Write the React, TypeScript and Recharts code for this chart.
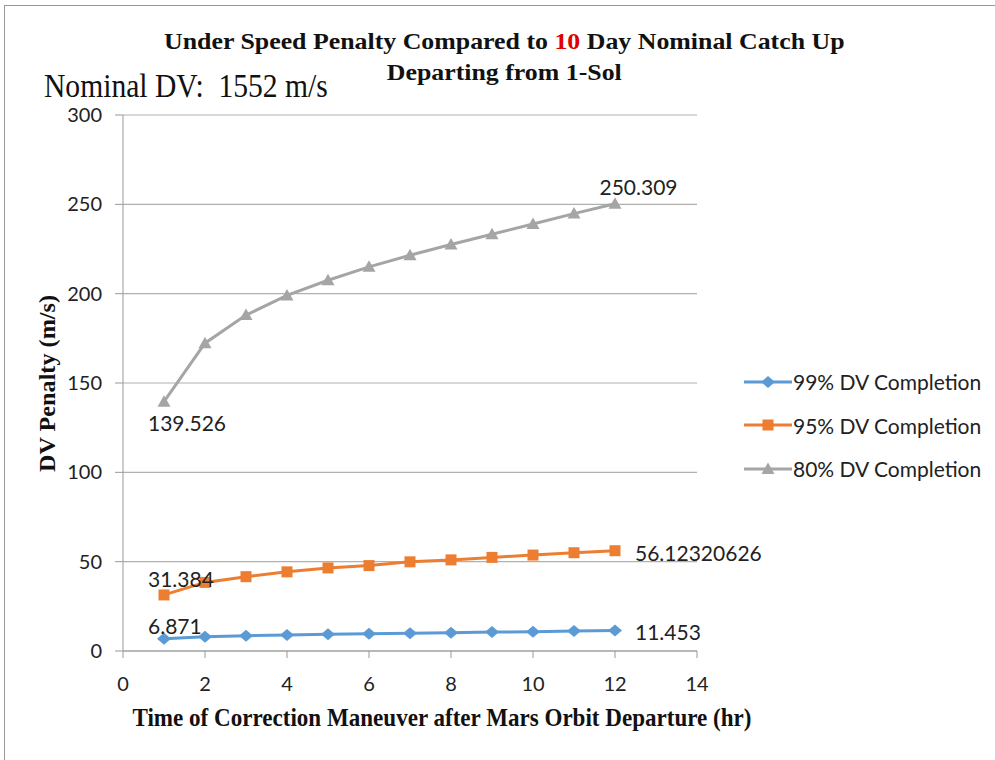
import React from "react"
import { LineChart, Line, XAxis, YAxis, CartesianGrid, LabelList } from "recharts"

const hours = [1, 2, 3, 4, 5, 6, 7, 8, 9, 10, 11, 12]
const dv99 = [6.871, 8.0, 8.6, 8.9, 9.4, 9.6, 10.0, 10.2, 10.6, 10.8, 11.2, 11.453]
const dv95 = [31.384, 38.4, 41.6, 44.3, 46.5, 47.8, 49.9, 51.0, 52.4, 53.7, 55.0, 56.12320626]
const dv80 = [139.526, 172.3, 188.0, 199.0, 207.5, 215.0, 221.5, 227.5, 233.3, 239.0, 244.8, 250.309]
const xTicks = [0, 2, 4, 6, 8, 10, 12, 14]
const yTicks = [0, 50, 100, 150, 200, 250, 300]

const data = hours.map((h, i) => ({ h, a: dv99[i], b: dv95[i], c: dv80[i] }))

const BLUE = "#5B9BD5"
const ORANGE = "#ED7D31"
const GRAY = "#A5A5A5"
const SERIF = "'Liberation Serif', 'Times New Roman', serif"
const SANS = "Lato, 'Noto Sans', sans-serif"

function Marker({ cx, cy, shape, color }: any) {
  if (cx == null || cy == null) return null
  if (shape === "diamond") {
    return <path d={`M${cx},${cy - 6}L${cx + 7},${cy}L${cx},${cy + 6}L${cx - 7},${cy}Z`} fill={color} />
  }
  if (shape === "square") {
    return <rect x={cx - 5.5} y={cy - 5.5} width={11} height={11} fill={color} />
  }
  return <path d={`M${cx},${cy - 6.5}L${cx + 6.5},${cy + 5}L${cx - 6.5},${cy + 5}Z`} fill={color} />
}

// only first and last point are labelled, like the original
function endLabel(pos: { first: [number, number, string]; last: [number, number, string] }) {
  return (props: any) => {
    const { x, y, value, index } = props
    if (index !== 0 && index !== hours.length - 1) return null
    const [dx, dy, anchor] = index === 0 ? pos.first : pos.last
    return (
      <text x={x + dx} y={y + dy} textAnchor={anchor} fontFamily={SANS} fontSize={21} fill="#222">
        {value}
      </text>
    )
  }
}

const legendItems = [
  { name: "99% DV Completion", color: BLUE, shape: "diamond" },
  { name: "95% DV Completion", color: ORANGE, shape: "square" },
  { name: "80% DV Completion", color: GRAY, shape: "triangle" },
]

const axisTitle = { fontFamily: SERIF, fontWeight: "bold", fill: "#111" } as const

export default function App() {
  return (
    <div style={{ position: "absolute", left: 0, top: 0, width: 995, height: 760, background: "#fff", fontFamily: SERIF, overflow: "hidden" }}>
      <div style={{ position: "absolute", left: 4, top: 5, width: 992, height: 755, borderTop: "1px solid #999", borderLeft: "1px solid #999" }} />
      <div style={{ position: "absolute", left: 0, width: 995, top: 26, textAlign: "center", fontWeight: "bold", fontSize: 23.5, lineHeight: "31px", color: "#111", paddingLeft: 15, boxSizing: "border-box", transform: "scaleX(1.1)", transformOrigin: "512px 0" }}>
        Under Speed Penalty Compared to <span style={{ color: "#e00000" }}>10</span> Day Nominal Catch Up
        <br />
        Departing from 1-Sol
      </div>
      <div style={{ position: "absolute", left: 44, top: 71, fontSize: 34, lineHeight: "30px", color: "#111", whiteSpace: "nowrap", transform: "scaleX(0.87)", transformOrigin: "0 0" }}>
        Nominal DV:&nbsp; 1552 m/s
      </div>
      <LineChart width={995} height={760} data={data} margin={{ top: 115, right: 298, bottom: 59, left: 63 }}>
        <CartesianGrid horizontal vertical={false} stroke="#b0b0b0" strokeWidth={1.2} />
        <XAxis
          dataKey="h"
          type="number"
          domain={[0, 14]}
          ticks={xTicks}
          height={50}
          tickSize={7}
          tickMargin={19}
          stroke="#999"
          tick={{ fill: "#222", fontSize: 20, fontFamily: SANS }}
          label={(p: any) => (
            <text x={442} y={726} textAnchor="middle" fontSize={25} textLength={619} lengthAdjust="spacingAndGlyphs" {...axisTitle}>
              Time of Correction Maneuver after Mars Orbit Departure (hr)
            </text>
          )}
        />
        <YAxis
          type="number"
          domain={[0, 300]}
          ticks={yTicks}
          width={60}
          tickSize={8}
          tickMargin={13}
          stroke="#999"
          tick={{ fill: "#222", fontSize: 20, fontFamily: SANS }}
          label={(p: any) => (
            <text x={55} y={383.5} transform="rotate(-90 55 383.5)" textAnchor="middle" fontSize={24} textLength={177} lengthAdjust="spacingAndGlyphs" {...axisTitle}>
              DV Penalty (m/s)
            </text>
          )}
        />
        <Line dataKey="a" stroke={BLUE} strokeWidth={3} isAnimationActive={false} dot={(p: any) => <Marker key={p.index} {...p} shape="diamond" color={BLUE} />}>
          <LabelList dataKey="a" content={endLabel({ first: [-16, -5, "start"], last: [20, 9, "start"] })} />
        </Line>
        <Line dataKey="b" stroke={ORANGE} strokeWidth={3} isAnimationActive={false} dot={(p: any) => <Marker key={p.index} {...p} shape="square" color={ORANGE} />}>
          <LabelList dataKey="b" content={endLabel({ first: [-16, -8, "start"], last: [20, 10, "start"] })} />
        </Line>
        <Line dataKey="c" stroke={GRAY} strokeWidth={3} isAnimationActive={false} dot={(p: any) => <Marker key={p.index} {...p} shape="triangle" color={GRAY} />}>
          <LabelList dataKey="c" content={endLabel({ first: [-16, 29, "start"], last: [23.5, -8.5, "middle"] })} />
        </Line>
      </LineChart>
      <div style={{ position: "absolute", left: 743, top: 360 }}>
        {legendItems.map((it) => (
          <div key={it.name} style={{ display: "flex", alignItems: "center", height: 43.5 }}>
            <svg width={50} height={16} style={{ marginRight: 0 }}>
              <line x1={1} y1={8} x2={49} y2={8} stroke={it.color} strokeWidth={3} />
              <Marker cx={25} cy={8} shape={it.shape} color={it.color} />
            </svg>
            <span style={{ fontFamily: SANS, fontSize: 21, color: "#222" }}>{it.name}</span>
          </div>
        ))}
      </div>
    </div>
  )
}
